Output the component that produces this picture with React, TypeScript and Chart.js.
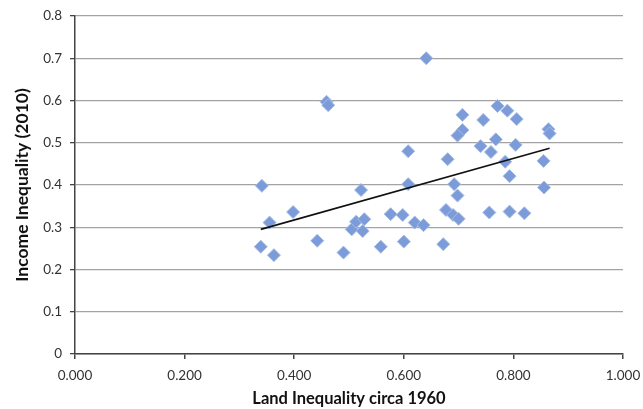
import React, { useEffect, useRef } from "react";
import { Chart, registerables } from "chart.js";

Chart.register(...registerables);

const landInequality = [
  0.641, 0.459, 0.462, 0.608, 0.341, 0.522, 0.608, 0.398, 0.355, 0.339,
  0.363, 0.442, 0.490, 0.505, 0.513, 0.528, 0.525, 0.558, 0.576, 0.598,
  0.600, 0.620, 0.636, 0.680, 0.707, 0.707, 0.698, 0.692, 0.698, 0.677,
  0.690, 0.700, 0.672, 0.745, 0.771, 0.789, 0.806, 0.864, 0.866, 0.740,
  0.768, 0.759, 0.804, 0.785, 0.793, 0.855, 0.856, 0.756, 0.793, 0.820,
];
const incomeInequality = [
  0.700, 0.597, 0.589, 0.480, 0.398, 0.388, 0.402, 0.336, 0.311, 0.254,
  0.234, 0.268, 0.240, 0.295, 0.313, 0.319, 0.291, 0.254, 0.331, 0.329,
  0.266, 0.311, 0.305, 0.461, 0.566, 0.530, 0.517, 0.402, 0.375, 0.341,
  0.329, 0.320, 0.260, 0.554, 0.587, 0.576, 0.556, 0.532, 0.522, 0.492,
  0.508, 0.478, 0.495, 0.455, 0.421, 0.457, 0.394, 0.335, 0.337, 0.333,
];
const trendX = [0.339, 0.866];
const trendY = [0.295, 0.487];

const xTitle = "Land Inequality circa 1960";
const yTitle = "Income Inequality (2010)";

export default function App() {
  const ref = useRef<HTMLCanvasElement | null>(null);

  useEffect(() => {
    if (!ref.current) return;
    const scatterData = landInequality.map((x, i) => ({ x, y: incomeInequality[i] }));
    const trendData = trendX.map((x, i) => ({ x, y: trendY[i] }));
    const chart = new Chart(ref.current, {
      type: "scatter",
      data: {
        datasets: [
          {
            type: "line",
            data: trendData,
            borderColor: "#111111",
            borderWidth: 1.6,
            pointRadius: 0,
            showLine: true,
            fill: false,
            order: 0,
          } as any,
          {
            data: scatterData,
            pointStyle: "rectRot",
            pointRadius: 6.5,
            backgroundColor: "#7b9bd9",
            borderColor: "#a6bce6",
            borderWidth: 1,
            order: 1,
          },
        ],
      },
      options: {
        animation: false,
        responsive: false,
        layout: { padding: { left: 12, right: 20, top: 16, bottom: 0 } },
        plugins: {
          legend: { display: false },
          tooltip: { enabled: false },
        },
        scales: {
          x: {
            type: "linear",
            min: 0,
            max: 1,
            afterFit: (s: any) => {
              s.height = 55;
              s.paddingLeft = 0;
              s.paddingRight = 0;
            },
            ticks: {
              stepSize: 0.2,
              color: "#333333",
              font: { family: "Lato", size: 13.5 },
              padding: 9,
              callback: (v: any) => Number(v).toFixed(3),
            },
            grid: {
              drawOnChartArea: false,
              tickLength: 5,
              tickColor: "#444444",
              lineWidth: 1.5,
            },
            border: { color: "#444444", width: 1.5 },
            title: {
              display: true,
              text: xTitle,
              color: "#111111",
              font: { family: "Lato", size: 16.5, weight: "bold" },
              padding: { top: 2, bottom: 0 },
            },
          },
          y: {
            type: "linear",
            min: 0,
            max: 0.8,
            afterFit: (s: any) => {
              s.width = 63;
              s.paddingTop = 0;
              s.paddingBottom = 0;
            },
            ticks: {
              stepSize: 0.1,
              color: "#333333",
              font: { family: "Lato", size: 13.5 },
              padding: 8,
              callback: (v: any) => (Number(v) === 0 ? "0" : Number(v).toFixed(1)),
            },
            grid: {
              color: "#a3a3a3",
              lineWidth: 1.3,
              tickLength: 5,
              tickColor: "#444444",
            },
            border: { color: "#444444", width: 1.5 },
            title: {
              display: true,
              text: yTitle,
              color: "#111111",
              font: { family: "Lato", size: 17.5, weight: "bold" },
              padding: { top: 0, bottom: 0 },
            },
          },
        },
      },
    });
    return () => chart.destroy();
  }, []);

  return (
    <div style={{ position: "fixed", left: 0, top: 0, width: 643, height: 409, background: "#ffffff" }}>
      <canvas ref={ref} width={643} height={409} />
    </div>
  );
}
